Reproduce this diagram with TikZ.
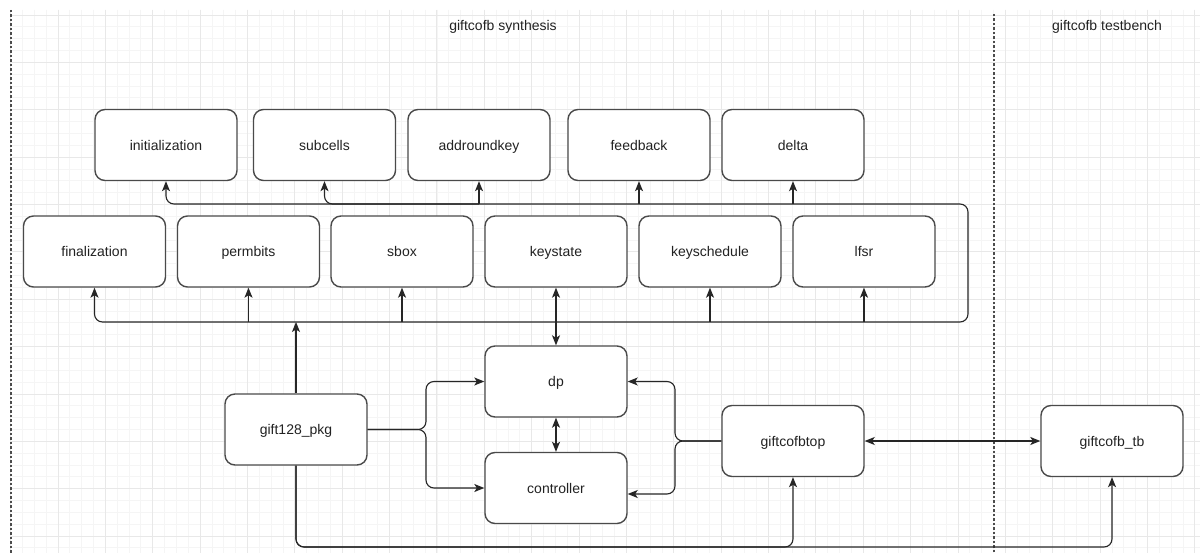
\documentclass[tikz,border=0pt]{standalone}
\usepackage{fontspec}
\setmainfont{Liberation Sans}
\usetikzlibrary{arrows.meta,calc}
\definecolor{gridminor}{HTML}{F5F5F5}
\definecolor{gridmajor}{HTML}{E8E8E8}
\definecolor{boxline}{HTML}{4A4A4A}
\definecolor{textcol}{HTML}{222222}
\begin{document}
\begin{tikzpicture}[x=1pt,y=-1pt,
  block/.style={draw=boxline,line width=1.4pt,rounded corners=10pt,fill=white,
    minimum width=142pt,minimum height=71pt,inner sep=0pt,
    text height=13pt,text depth=2pt,
    font=\fontsize{14}{16}\selectfont,text=textcol},
  conn/.style={draw=black!85,line width=1.1pt,rounded corners=8pt,
    -{Stealth[length=10pt,width=8pt,inset=2.5pt]}},
  biconn/.style={conn,{Stealth[length=10pt,width=8pt,inset=2.5pt]}-{Stealth[length=10pt,width=8pt,inset=2.5pt]}},
  minorline/.style={draw=gridminor,line width=0.8pt},
  majorline/.style={draw=gridmajor,line width=0.9pt},
  separator/.style={draw=black!70,line width=1.3pt,dash pattern=on 2.5pt off 2pt},
  title/.style={font=\fontsize{14}{16}\selectfont,text=textcol}]

\useasboundingbox (0,0) rectangle (1200,553);
\fill[white] (0,0) rectangle (1200,553);

% background grid
\begin{scope}
  \clip (10,10) rectangle (1200,553);
  \foreach \i in {0,...,101}
    \draw[minorline] ({10.6+11.842*\i},10) -- ({10.6+11.842*\i},553);
  \foreach \j in {0,...,46}
    \draw[minorline] (10,{15+11.842*\j}) -- (1200,{15+11.842*\j});
  \foreach \i in {0,...,25}
    \draw[majorline] ({10.6+47.37*\i},10) -- ({10.6+47.37*\i},553);
  \foreach \j in {0,...,11}
    \draw[majorline] (10,{15+47.37*\j}) -- (1200,{15+47.37*\j});
\end{scope}

% region separators and titles
\draw[separator] (11,10) -- (11,553);
\draw[separator] (994,14) -- (994,553);
\node[title] (synth) at (503,27) {giftcofb synthesis};
\node[title] (tbtitle) at (1107,27) {giftcofb testbench};

% blocks, upper row
\node[block] (initialization) at (166,145) {initialization};
\node[block] (subcells) at (324.5,145) {subcells};
\node[block] (addroundkey) at (479,145) {addroundkey};
\node[block] (feedback) at (639,145) {feedback};
\node[block] (delta) at (793,145) {delta};

% blocks, second row
\node[block] (finalization) at (94.5,251.5) {finalization};
\node[block] (permbits) at (248.5,251.5) {permbits};
\node[block] (sbox) at (402,251.5) {sbox};
\node[block] (keystate) at (556,251.5) {keystate};
\node[block] (keyschedule) at (710,251.5) {keyschedule};
\node[block] (lfsr) at (864,251.5) {lfsr};

% lower blocks
\node[block] (dp) at (556,381.5) {dp};
\node[block] (controller) at (556,488) {controller};
\node[block] (pkg) at (296,429.5) {gift128\_pkg};
\node[block] (top) at (793,441) {giftcofbtop};
\node[block] (tb) at (1112,441) {giftcofb\_tb};

% package bus
\coordinate (busBR) at (968,322);
\coordinate (busTR) at (968,204);
\draw[biconn] (finalization.south) |- (busBR) -- (busTR) -| (initialization.south);

\coordinate (bt2) at (addroundkey.south |- busTR);
\draw[conn] (bt2) -| (subcells.south);
\draw[conn] (bt2) -- (addroundkey.south);
\coordinate (bt4) at (feedback.south |- busTR);
\draw[conn] (bt4) -- (feedback.south);
\coordinate (bt5) at (delta.south |- busTR);
\draw[conn] (bt5) -- (delta.south);

\coordinate (bb2) at (permbits.south |- busBR);
\draw[conn] (bb2) -- (permbits.south);
\coordinate (bb3) at (sbox.south |- busBR);
\draw[conn] (bb3) -- (sbox.south);
\coordinate (bb5) at (keyschedule.south |- busBR);
\draw[conn] (bb5) -- (keyschedule.south);
\coordinate (bb6) at (lfsr.south |- busBR);
\draw[conn] (bb6) -- (lfsr.south);

\coordinate (bbpkg) at (pkg.north |- busBR);
\draw[conn] (pkg.north) -- (bbpkg);

% datapath and controller
\draw[biconn] (keystate.south) -- (dp.north);
\draw[biconn] (dp.south) -- (controller.north);

\coordinate (splitL) at (426,429.5);
\draw[conn] (pkg.east) -- (splitL) |- (dp.west);
\draw[conn] (pkg.east) -- (splitL) |- (controller.west);

\coordinate (splitR) at (675,441);
\coordinate (ctrlin) at ($(controller.east)+(0,6)$);
\draw[conn] (top.west) -- (splitR) |- (dp.east);
\draw[conn] (top.west) -- (splitR) |- (ctrlin);

% package to top level and testbench
\coordinate (botM) at (793,547);
\coordinate (botR) at (1112,547);
\draw[conn] (pkg.south) |- (botM) -- (top.south);
\draw[conn] (pkg.south) |- (botR) -- (tb.south);

\draw[biconn] (top.east) -- (tb.west);
\end{tikzpicture}
\end{document}
